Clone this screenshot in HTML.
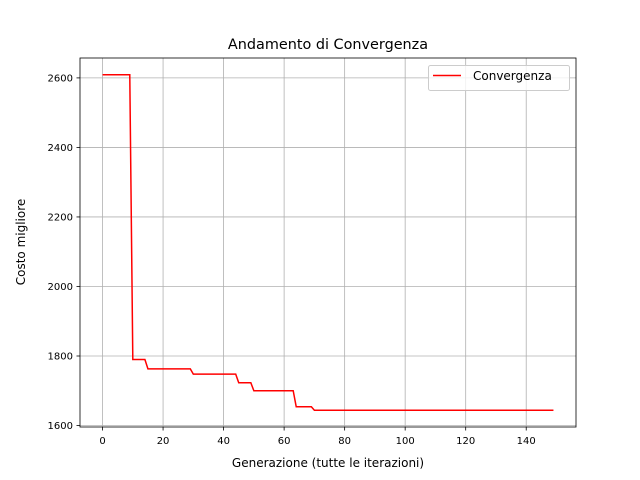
<!DOCTYPE html>
<html><head><meta charset="utf-8"><style>
body{margin:0;background:#fff}
svg{display:block;font-family:"DejaVu Sans","Liberation Sans",sans-serif}
</style></head><body>
<svg id="chart" width="640" height="480" xmlns="http://www.w3.org/2000/svg">
<rect width="640" height="480" fill="#fff"/>
<g id="grid"></g>
<g id="ticks"></g>
<path id="line" fill="none" stroke="#ff0000" stroke-width="1.5"/>
<rect x="80" y="58" width="496" height="369" fill="none" stroke="#000" stroke-width="0.8"/>
<text x="328" y="49" font-size="14.4" text-anchor="middle">Andamento di Convergenza</text>
<text x="328" y="467" font-size="12" text-anchor="middle">Generazione (tutte le iterazioni)</text>
<text x="25" y="242" font-size="12" text-anchor="middle" transform="rotate(-90 25 242)">Costo migliore</text>
<g>
<rect x="428.5" y="65.5" width="141" height="25" rx="2" fill="#fff" fill-opacity="0.8" stroke="#ccc"/>
<line x1="433" y1="75.5" x2="461" y2="75.5" stroke="#ff0000" stroke-width="1.5"/>
<text x="473" y="80" font-size="12">Convergenza</text>
</g>
</svg>
<script>
const costs = [
2609,2609,2609,2609,2609,2609,2609,2609,2609,2609,
1790,1790,1790,1790,1790,
1763,1763,1763,1763,1763,1763,1763,1763,1763,1763,1763,1763,1763,1763,1763,
1748,1748,1748,1748,1748,1748,1748,1748,1748,1748,1748,1748,1748,1748,1748,
1723,1723,1723,1723,1723,
1700,1700,1700,1700,1700,1700,1700,1700,1700,1700,1700,1700,1700,1700,
1654,1654,1654,1654,1654,1654,
1644,1644,1644,1644,1644,1644,1644,1644,1644,1644,1644,1644,1644,1644,1644,1644,1644,1644,1644,1644,
1644,1644,1644,1644,1644,1644,1644,1644,1644,1644,1644,1644,1644,1644,1644,1644,1644,1644,1644,1644,
1644,1644,1644,1644,1644,1644,1644,1644,1644,1644,1644,1644,1644,1644,1644,1644,1644,1644,1644,1644,
1644,1644,1644,1644,1644,1644,1644,1644,1644,1644,1644,1644,1644,1644,1644,1644,1644,1644,1644,1644
];
const xTicks = [0,20,40,60,80,100,120,140];
const yTicks = [1600,1800,2000,2200,2400,2600];

const L=80,R=576,T=58,B=427;
const n=costs.length;
const xmin=-(n-1)*0.05, xmax=(n-1)*1.05;
const cmin=Math.min(...costs), cmax=Math.max(...costs), pad=(cmax-cmin)*0.05;
const ymin=cmin-pad, ymax=cmax+pad;
const X=v=>L+(v-xmin)/(xmax-xmin)*(R-L);
const Y=v=>B-(v-ymin)/(ymax-ymin)*(B-T);
const NS="http://www.w3.org/2000/svg";
const grid=document.getElementById('grid'), ticks=document.getElementById('ticks');
function mk(tag,attrs,parent){const e=document.createElementNS(NS,tag);for(const k in attrs)e.setAttribute(k,attrs[k]);parent.appendChild(e);return e;}
xTicks.forEach(t=>{
  const x=X(t);
  const g=mk('line',{x1:x,x2:x,y1:T,y2:B,stroke:'#b0b0b0','stroke-width':0.8},grid);
  
  
  const tk=mk('line',{x1:x,x2:x,y1:B,y2:B+3.5,stroke:'#000','stroke-width':0.8},ticks);
  
  
  const tx=mk('text',{x:x,y:B+17,'font-size':10,'text-anchor':'middle'},ticks);
  tx.textContent=t;
  
  
});
yTicks.forEach(t=>{
  const y=Y(t);
  const g=mk('line',{x1:L,x2:R,y1:y,y2:y,stroke:'#b0b0b0','stroke-width':0.8},grid);
  
  
  const tk=mk('line',{x1:L-3.5,x2:L,y1:y,y2:y,stroke:'#000','stroke-width':0.8},ticks);
  
  
  const tx=mk('text',{x:L-7,y:y+3.5,'font-size':10,'text-anchor':'end'},ticks);
  tx.textContent=t;
  
  
});
document.getElementById('line').setAttribute('d',costs.map((c,i)=>(i?'L':'M')+X(i).toFixed(2)+','+Y(c).toFixed(2)).join(''));
</script>
</body></html>
